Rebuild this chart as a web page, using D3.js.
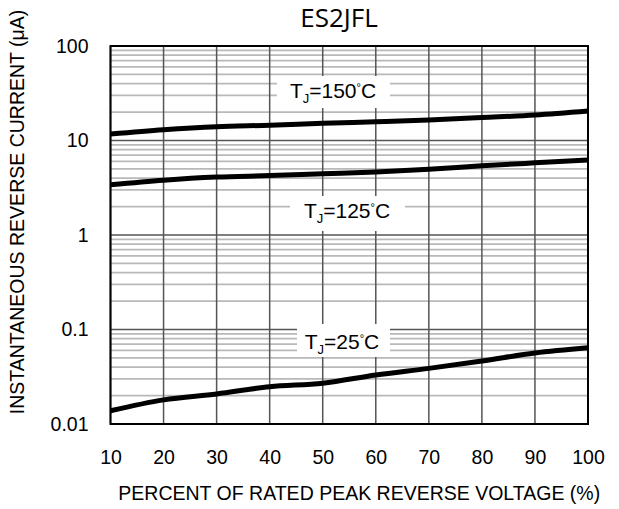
<!DOCTYPE html>
<html>
<head>
<meta charset="utf-8">
<script src="https://cdn.jsdelivr.net/npm/d3@7"></script>
<style>
  body { margin: 0; background: #fff; }
  text { font-family: "Liberation Sans", Arial, sans-serif; fill: #000; }
</style>
</head>
<body>
<div class="container"></div>
<script>
var w = 619;
var h = 509;

// data
var voltage = [10, 20, 30, 40, 50, 60, 70, 80, 90, 100];
var tj150 = [11.7, 13.0, 14.0, 14.5, 15.2, 15.8, 16.5, 17.5, 18.6, 20.5];
var tj125 = [3.4, 3.8, 4.1, 4.25, 4.45, 4.65, 4.95, 5.4, 5.8, 6.2];
var tj25 = [0.0138, 0.018, 0.0208, 0.0248, 0.027, 0.033, 0.0388, 0.0464, 0.0564, 0.064];
var yTicks = [0.01, 0.1, 1, 10, 100];
var xTicks = [10, 20, 30, 40, 50, 60, 70, 80, 90, 100];

var pLeft = 110.5, pRight = 588, pTop = 46, pBottom = 424;

var canvas = d3.select(".container").append("svg")
  .attr("width", w)
  .attr("height", h);

var x = d3.scaleLinear().domain([10, 100]).range([pLeft, pRight]);
var y = d3.scaleLog().domain([0.01, 100]).range([pBottom, pTop]);

// minor grid
var minor = [];
yTicks.slice(0, -1).forEach(function (d) {
  for (var k = 2; k <= 9; k++) minor.push(d * k);
});

var grid = canvas.append("g");
grid.selectAll("line.minor").data(minor).enter().append("line")
  .attr("class", "minor")
  .attr("x1", pLeft).attr("x2", pRight)
  .attr("y1", (d) => y(d)).attr("y2", (d) => y(d))
  .attr("stroke", "#b9b9b9")
  .attr("stroke-width", 1.8);

grid.selectAll("line.major").data(yTicks).enter().append("line")
  .attr("class", "major")
  .attr("x1", pLeft).attr("x2", pRight)
  .attr("y1", (d) => y(d)).attr("y2", (d) => y(d))
  .attr("stroke", "#555")
  .attr("stroke-width", 1.5);

grid.selectAll("line.vert").data(xTicks).enter().append("line")
  .attr("class", "vert")
  .attr("x1", (d) => x(d)).attr("x2", (d) => x(d))
  .attr("y1", pTop).attr("y2", pBottom)
  .attr("stroke", "#555")
  .attr("stroke-width", 1.5);

// label boxes hide the grid behind the labels
var labels = [
  { name: "150", x: 333, y: 98, x0: 277, x1: 390, y0: 76, y1: 108 },
  { name: "125", x: 347, y: 218, x0: 290, x1: 405, y0: 196, y1: 231 },
  { name: "25", x: 342, y: 349, x0: 297, x1: 390, y0: 324, y1: 357 }
];
canvas.selectAll("rect.lbl").data(labels).enter().append("rect")
  .attr("class", "lbl")
  .attr("x", (d) => d.x0).attr("y", (d) => d.y0)
  .attr("width", (d) => d.x1 - d.x0).attr("height", (d) => d.y1 - d.y0)
  .attr("fill", "#fff");

var lbl = canvas.selectAll("text.lbl").data(labels).enter().append("text")
  .attr("class", "lbl")
  .attr("x", (d) => d.x).attr("y", (d) => d.y)
  .attr("text-anchor", "middle")
  .style("font-size", "21px");
lbl.append("tspan").text("T");
lbl.append("tspan").attr("dy", 5).style("font-size", "13px").text("J");
lbl.append("tspan").attr("dy", -5).text((d) => "=" + d.name);
lbl.append("tspan").attr("dy", -7).style("font-size", "11px").text("°");
lbl.append("tspan").attr("dy", 7).text("C");

// curves
var line = d3.line()
  .x((d, i) => x(voltage[i]))
  .y((d) => y(d))
  .curve(d3.curveMonotoneX);

canvas.selectAll("path.curve").data([tj150, tj125, tj25]).enter().append("path")
  .attr("class", "curve")
  .attr("d", line)
  .attr("fill", "none")
  .attr("stroke", "#000")
  .attr("stroke-width", 5);

// frame
canvas.append("rect")
  .attr("x", pLeft).attr("y", pTop)
  .attr("width", pRight - pLeft).attr("height", pBottom - pTop)
  .attr("fill", "none")
  .attr("stroke", "#000")
  .attr("stroke-width", 2);

// axes (labels only)
var yAxis = canvas.append("g")
  .attr("transform", "translate(" + pLeft + ",0)")
  .call(d3.axisLeft(y).tickValues(yTicks).tickSize(0).tickPadding(22)
    .tickFormat((d) => d >= 1 ? d3.format("d")(d) : String(d)));
yAxis.select(".domain").remove();
yAxis.attr("font-size", 19.5).attr("font-family", null);

var xAxis = canvas.append("g")
  .attr("transform", "translate(0," + pBottom + ")")
  .call(d3.axisBottom(x).tickValues(xTicks).tickSize(0).tickPadding(26)
    .tickFormat(d3.format("d")));
xAxis.select(".domain").remove();
xAxis.attr("font-size", 19.5).attr("font-family", null);

canvas.append("text")
  .attr("x", (pLeft + pRight) / 2 + 10).attr("y", 500)
  .attr("text-anchor", "middle")
  .style("font-size", "19.5px")
  .text("PERCENT OF RATED PEAK REVERSE VOLTAGE (%)");

canvas.append("text")
  .attr("transform", "translate(24,212) rotate(-90)")
  .attr("text-anchor", "middle")
  .style("font-size", "19.5px")
  .text("INSTANTANEOUS REVERSE CURRENT (μA)");

canvas.append("text")
  .attr("x", 339).attr("y", 27)
  .attr("text-anchor", "middle")
  .style("font-family", "'Open Sans', sans-serif")
  .style("font-size", "26px")
  .text("ES2JFL");
</script>
</body>
</html>
